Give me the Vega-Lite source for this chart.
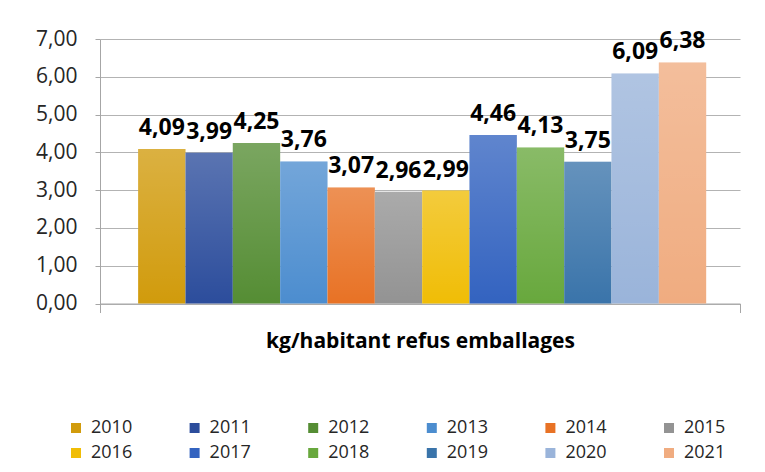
{
  "$schema": "https://vega.github.io/schema/vega-lite/v6.json",
  "width": 640,
  "height": 264.5,
  "autosize": {"type": "none"},
  "padding": {"left": 100, "top": 39, "right": 25, "bottom": 168.5},
  "background": "white",
  "config": {
    "locale": {"number": {"decimal": ",", "thousands": " ", "grouping": [3], "currency": ["", " €"]}},
    "view": {"stroke": null},
    "font": "Open Sans"
  },
  "data": {
    "values": [
      {"cat": "kg/habitant refus emballages", "annee": "2010", "valeur": 4.09},
      {"cat": "kg/habitant refus emballages", "annee": "2011", "valeur": 3.99},
      {"cat": "kg/habitant refus emballages", "annee": "2012", "valeur": 4.25},
      {"cat": "kg/habitant refus emballages", "annee": "2013", "valeur": 3.76},
      {"cat": "kg/habitant refus emballages", "annee": "2014", "valeur": 3.07},
      {"cat": "kg/habitant refus emballages", "annee": "2015", "valeur": 2.96},
      {"cat": "kg/habitant refus emballages", "annee": "2016", "valeur": 2.99},
      {"cat": "kg/habitant refus emballages", "annee": "2017", "valeur": 4.46},
      {"cat": "kg/habitant refus emballages", "annee": "2018", "valeur": 4.13},
      {"cat": "kg/habitant refus emballages", "annee": "2019", "valeur": 3.75},
      {"cat": "kg/habitant refus emballages", "annee": "2020", "valeur": 6.09},
      {"cat": "kg/habitant refus emballages", "annee": "2021", "valeur": 6.38}
    ]
  },
  "encoding": {
    "x": {
      "field": "cat", "type": "nominal",
      "scale": {"paddingInner": 0, "paddingOuter": 0},
      "axis": {
        "labels": false, "title": "kg/habitant refus emballages",
        "titleFont": "Open Sans", "titleFontWeight": "bold", "titleFontSize": 21, "titleColor": "#000000",
        "titlePadding": 17, "tickBand": "extent", "tickSize": 9, "tickColor": "#a6a6a6",
        "domainColor": "#a6a6a6", "grid": false
      }
    },
    "xOffset": {
      "field": "annee", "type": "nominal",
      "scale": {"paddingInner": 0, "paddingOuter": 0.76, "align": 0.53}
    },
    "y": {
      "field": "valeur", "type": "quantitative",
      "scale": {"domain": [0, 7], "nice": false},
      "axis": {
        "values": [0, 1, 2, 3, 4, 5, 6, 7], "format": ".2f", "title": null,
        "labelFont": "Open Sans", "labelFontSize": 21, "labelColor": "#262626", "labelPadding": 18,
        "tickSize": 5, "tickColor": "#a6a6a6", "domainColor": "#a6a6a6",
        "gridColor": "#b3b3b3", "gridWidth": 1
      }
    }
  },
  "layer": [
    {
      "mark": {"type": "bar"},
      "encoding": {
        "color": {
          "field": "annee", "type": "nominal",
          "scale": {
            "domain": ["2010", "2011", "2012", "2013", "2014", "2015", "2016", "2017", "2018", "2019", "2020", "2021"],
            "range": ["#d19b0c", "#2c4d9c", "#558d34", "#4c8dcf", "#e87225", "#939393", "#f0bd06", "#3363c0", "#68a83d", "#3a74aa", "#9ab4da", "#f0ac80"]
          },
          "legend": {
            "title": null, "orient": "none", "legendX": -33, "legendY": 380,
            "direction": "horizontal", "columns": 6, "columnPadding": 52.6, "rowPadding": 7,
            "symbolType": "square", "symbolSize": 100, "symbolStrokeWidth": 0, "symbolOpacity": 1,
            "labelFont": "Open Sans", "labelFontSize": 18, "labelColor": "#262626", "labelOffset": 6,
            "padding": 0
          }
        }
      }
    },
    {
      "mark": {
        "type": "bar",
        "color": {"gradient": "linear", "x1": 0, "y1": 0, "x2": 0, "y2": 1,
          "stops": [{"offset": 0, "color": "rgba(255,255,255,0.22)"}, {"offset": 1, "color": "rgba(255,255,255,0)"}]}
      },
      "encoding": {}
    },
    {
      "mark": {"type": "text", "baseline": "alphabetic", "align": "center", "dy": -14, "font": "Open Sans", "fontWeight": "bold", "fontSize": 23, "color": "#000000"},
      "encoding": {
        "text": {"field": "valeur", "type": "quantitative", "format": ".2f"}
      }
    }
  ]
}
